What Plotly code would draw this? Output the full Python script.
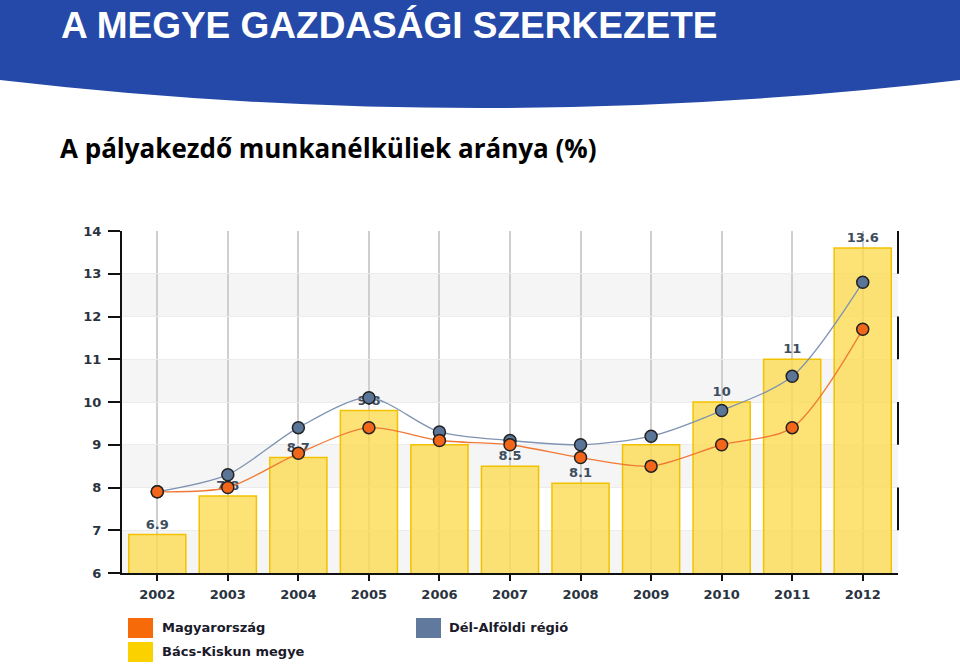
import plotly.graph_objects as go

years = ["2002", "2003", "2004", "2005", "2006", "2007", "2008", "2009", "2010", "2011", "2012"]
bacs_kiskun = [6.9, 7.8, 8.7, 9.8, 9.0, 8.5, 8.1, 9.0, 10.0, 11.0, 13.6]
del_alfold = [7.9, 8.3, 9.4, 10.1, 9.3, 9.1, 9.0, 9.2, 9.8, 10.6, 12.8]
magyarorszag = [7.9, 8.0, 8.8, 9.4, 9.1, 9.0, 8.7, 8.5, 9.0, 9.4, 11.7]
y_ticks = [6, 7, 8, 9, 10, 11, 12, 13, 14]

W, H = 960, 666
L, R, T, B = 122, 898, 231, 573


def px(x):
    return (x - L) / (R - L)


def py(y):
    return (B - y) / (B - T)


fig = go.Figure()

fig.add_trace(go.Bar(
    x=years, y=bacs_kiskun, name="Bács-Kiskun megye",
    marker=dict(color="rgba(252,218,80,0.78)", line=dict(color="#f2c200", width=1.5)),
    width=0.81,
    text=[f"{v:g}" for v in bacs_kiskun], textposition="outside",
    textfont=dict(family="DejaVu Sans", size=13, color="#3d4d5e", weight="bold"),
    cliponaxis=False,
))

fig.add_trace(go.Scatter(
    x=years, y=del_alfold, name="Dél-Alföldi régió", mode="lines+markers",
    line=dict(color="#7f93b2", width=1.3, shape="spline", smoothing=0.8),
    marker=dict(size=12, color="#5b7598", line=dict(color="#222", width=1.5)),
))

fig.add_trace(go.Scatter(
    x=years, y=magyarorszag, name="Magyarország", mode="lines+markers",
    line=dict(color="#f07a35", width=1.3, shape="spline", smoothing=0.8),
    marker=dict(size=12, color="#f2661a", line=dict(color="#222", width=1.5)),
))

shapes = []
# alternating bands
for lo in [6, 8, 10, 12]:
    shapes.append(dict(type="rect", xref="paper", yref="y", x0=0, x1=1, y0=lo, y1=lo + 1,
                       fillcolor="#f5f5f5", line=dict(width=0), layer="below"))
# right axis partial segments
for lo in [7, 9, 11, 13]:
    shapes.append(dict(type="line", xref="paper", yref="y", x0=1, x1=1, y0=lo, y1=lo + 1,
                       line=dict(color="#111", width=2)))
# header band
x0, x1 = px(0), px(W)
yt = py(0)
ye = py(80)
yc = py(136)
xm = px(W / 2)
shapes.append(dict(type="path", xref="paper", yref="paper",
                   path=f"M {x0},{yt} L {x1},{yt} L {x1},{ye} Q {xm},{yc} {x0},{ye} Z",
                   fillcolor="#2449a8", line=dict(width=0), layer="above"))
# legend squares
leg = [("#f66a0a", 128, 618, "Magyarország", 160),
       ("#fcd100", 128, 642, "Bács-Kiskun megye", 160),
       ("#60799c", 416, 618, "Dél-Alföldi régió", 447)]
annotations = []
for col, lx, ly, name, tx in leg:
    shapes.append(dict(type="rect", xref="paper", yref="paper",
                       x0=px(lx), x1=px(lx + 25), y0=py(ly), y1=py(ly + 20),
                       fillcolor=col, line=dict(width=0)))
    annotations.append(dict(xref="paper", yref="paper", x=px(tx), y=py(ly + 9),
                            text=name, showarrow=False, xanchor="left", yanchor="middle",
                            font=dict(family="DejaVu Sans", size=13, color="#1a1a2a", weight="bold")))

annotations.append(dict(xref="paper", yref="paper", x=px(59), y=py(25),
                        text="<b>A MEGYE GAZDASÁGI SZERKEZETE</b>", showarrow=False,
                        xanchor="left", yanchor="middle",
                        font=dict(family="Liberation Sans Narrow, Arial Narrow, Liberation Sans", size=37, color="white")))
annotations.append(dict(xref="paper", yref="paper", x=px(58), y=py(148),
                        text="<b>A pályakezdő munkanélküliek aránya (%)</b>", showarrow=False,
                        xanchor="left", yanchor="middle",
                        font=dict(family="Open Sans", size=26, color="black")))

fig.update_layout(
    width=W, height=H, margin=dict(l=L, r=W - R, t=T, b=H - B),
    paper_bgcolor="white", plot_bgcolor="white",
    showlegend=False, bargap=0.19,
    shapes=shapes, annotations=annotations,
    xaxis=dict(type="category", showgrid=True, gridcolor="#cfcfcf", gridwidth=2,
               showline=True, linecolor="#111", linewidth=2, ticks="outside", ticklen=6,
               tickwidth=1.5, tickcolor="#111", range=[-0.5, 10.5], ticklabelstandoff=2,
               tickfont=dict(family="DejaVu Sans", size=13, color="#2a3340", weight="bold")),
    yaxis=dict(range=[6, 14], tickvals=y_ticks, showgrid=True, gridcolor="#ececec", gridwidth=1,
               showline=True, linecolor="#111", linewidth=2, ticks="outside", ticklen=12,
               tickwidth=1.5, tickcolor="#111", zeroline=False, ticklabelstandoff=4,
               tickfont=dict(family="DejaVu Sans", size=13, color="#2a3340", weight="bold")),
)

fig.write_html("out.html")
